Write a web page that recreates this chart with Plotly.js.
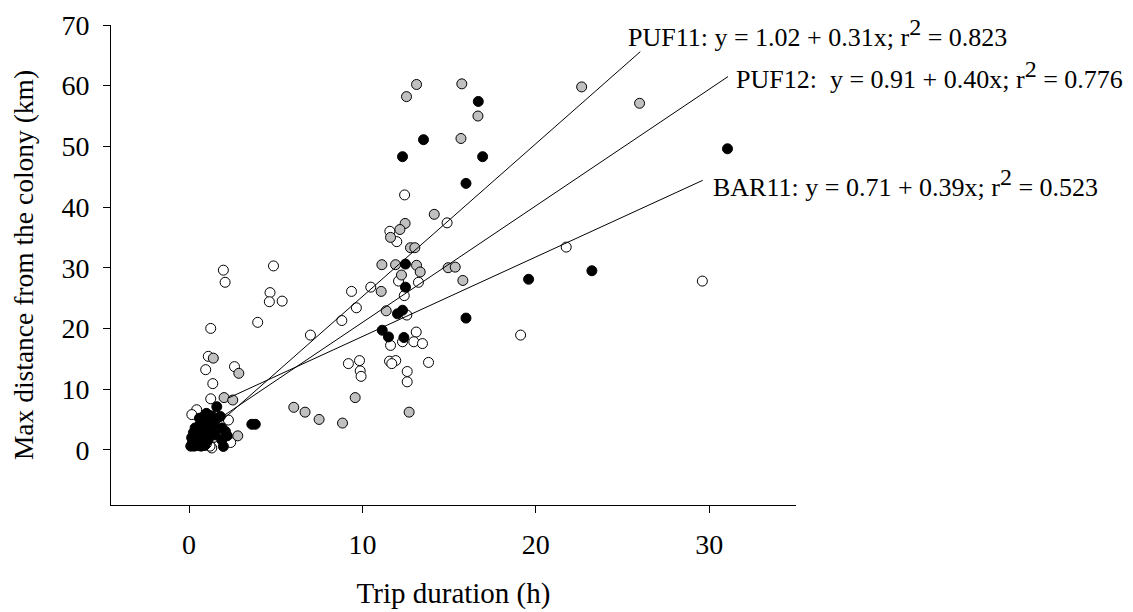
<!DOCTYPE html>
<html>
<head>
<meta charset="utf-8">
<script src="https://cdn.plot.ly/plotly-3.0.1.min.js"></script>
<style>html,body{margin:0;padding:0;background:#fff;}#chart{width:1133px;height:612px;}</style>
</head>
<body>
<div id="chart"></div>
<script>
// BAR11 (open circles): trip duration (h), max distance (km)
const bar11X = [12.43,14.88,11.58,11.98,12.08,13.23,10.48,9.37,12.41,9.65,12.56,8.81,7.0,11.62,12.31,13.1,12.96,13.46,19.12,9.19,9.83,9.87,9.92,11.56,11.92,11.69,12.58,12.58,13.81,21.75,29.6,1.98,2.08,4.87,4.67,4.63,5.37,3.96,1.25,1.11,0.96,2.62,1.37,1.25,0.44,0.16,2.27,1.31,1.21,1.1,0.7,2.4];
const bar11Y = [42.0,37.4,36.0,34.3,27.8,27.6,26.8,26.1,25.4,23.4,22.2,21.3,18.9,17.2,17.8,19.4,17.8,17.5,18.9,14.2,14.7,13.0,12.1,14.6,14.7,14.2,12.9,11.2,14.4,33.4,27.8,29.6,27.6,30.3,25.9,24.4,24.5,21.0,20.0,15.4,13.2,13.7,10.9,8.4,6.6,5.8,4.9,0.3,0.6,2.6,3.8,1.2];

// PUF12 (grey circles)
const puf12X = [13.12,15.73,12.54,16.66,15.68,14.14,12.46,12.16,11.62,12.77,13.02,11.12,11.91,13.12,13.33,12.25,14.94,15.35,15.79,11.08,11.37,9.58,6.04,6.69,7.5,8.85,12.69,22.64,25.98,1.4,2.87,2.02,2.52,2.81,1.4,1.0,0.5,1.7];
const puf12Y = [60.2,60.3,58.2,55.0,51.3,38.8,37.3,36.3,35.0,33.3,33.3,30.5,30.5,30.4,29.3,28.8,30.0,30.1,27.9,26.1,22.9,8.6,7.0,6.2,5.0,4.4,6.2,59.8,57.1,15.1,12.6,8.6,8.2,2.3,2.0,1.0,2.2,3.2];

// PUF11 (black circles)
const puf11X = [16.68,13.52,12.31,16.93,15.97,12.48,12.48,12.02,12.31,15.97,11.14,11.5,12.39,19.58,31.05,23.23,1.6,3.62,3.82,1.89,1.98,
  0.1,0.3,0.5,0.7,0.9,0.2,0.4,0.6,0.8,0.15,0.35,0.6,0.9,0.25,0.5,0.8,0.35,0.6,1.0,0.8,1.1,1.3,1.5,1.4,1.2,1.5,1.9,2.1,2.2,1.1,0.6,1.8,1.0];
const puf11Y = [57.4,51.1,48.3,48.3,43.9,30.6,26.8,22.4,23.0,21.7,19.7,18.6,18.5,28.1,49.6,29.5,7.1,4.2,4.2,1.6,0.55,
  0.6,0.6,0.7,0.6,0.7,1.2,1.4,1.2,1.5,2.0,2.2,2.0,2.3,2.8,3.0,3.2,3.6,4.0,3.8,4.8,5.0,5.6,5.0,4.0,3.0,2.5,3.6,3.0,2.3,1.6,5.2,5.5,6.0];

// Fitted regression lines (start / end)
const puf11FitX = [1.0, 26.02], puf11FitY = [2.6, 65.6];
const puf12FitX = [1.0, 31.08], puf12FitY = [3.7, 61.5];
const bar11FitX = [2.27, 29.62], bar11FitY = [8.53, 44.4];

const SUP2 = '<sup><span style="font-size:24px">2</span></sup>';
const fitLabels = [
  'PUF11: y = 1.02 + 0.31x; r' + SUP2 + ' = 0.823',
  'PUF12:\u00a0 y = 0.91 + 0.40x; r' + SUP2 + ' = 0.776',
  'BAR11: y = 0.71 + 0.39x; r' + SUP2 + ' = 0.523'
];

const FONT = 'Liberation Serif, Times New Roman, serif';

function pts(x, y, fill, name) {
  return {type:'scatter', mode:'markers', x:x, y:y, name:name,
    marker:{size:10, color:fill, line:{color:'#000', width:1}}, hoverinfo:'x+y'};
}
function fit(x, y, name) {
  return {type:'scatter', mode:'lines', x:x, y:y, name:name,
    line:{color:'#000', width:1}, hoverinfo:'skip'};
}

const data = [
  pts(bar11X, bar11Y, '#ffffff', 'BAR11'),
  pts(puf12X, puf12Y, '#c0c0c0', 'PUF12'),
  pts(puf11X, puf11Y, '#000000', 'PUF11'),
  fit(puf11FitX, puf11FitY, 'PUF11 fit'),
  fit(puf12FitX, puf12FitY, 'PUF12 fit'),
  fit(bar11FitX, bar11FitY, 'BAR11 fit')
];

const ann = (text, x, y) => ({text:text, xref:'paper', yref:'paper', x:x, y:y,
  xanchor:'left', yanchor:'middle', showarrow:false, font:{family:FONT, size:26, color:'#000'}});

const layout = {
  width:1133, height:612,
  margin:{l:111, r:337, t:25, b:107},
  paper_bgcolor:'#fff', plot_bgcolor:'#fff',
  showlegend:false,
  font:{family:FONT, color:'#000'},
  xaxis:{range:[-4.5,35], tick0:0, dtick:10, ticks:'outside', ticklen:7, tickcolor:'#000',
    showline:true, linecolor:'#000', linewidth:1, showgrid:false, zeroline:false,
    tickfont:{family:FONT, size:28, color:'#000'}, ticklabelstandoff:7,
    title:{text:'Trip duration (h)', font:{family:FONT, size:29, color:'#000'}, standoff:24}},
  yaxis:{range:[-9.1,70], tick0:0, dtick:10, ticks:'outside', ticklen:7, tickcolor:'#000',
    showline:true, linecolor:'#000', linewidth:1, showgrid:false, zeroline:false,
    tickfont:{family:FONT, size:28, color:'#000'}, ticklabelstandoff:8,
    title:{text:'Max distance from the colony (km)', font:{family:FONT, size:27.5, color:'#000'}, standoff:19}},
  annotations:[
    ann(fitLabels[0], 0.752, 0.984),
    ann(fitLabels[1], 0.910, 0.895),
    ann(fitLabels[2], 0.876, 0.670)
  ]
};

Plotly.newPlot('chart', data, layout, {displayModeBar:false, staticPlot:true});
</script>
</body>
</html>
